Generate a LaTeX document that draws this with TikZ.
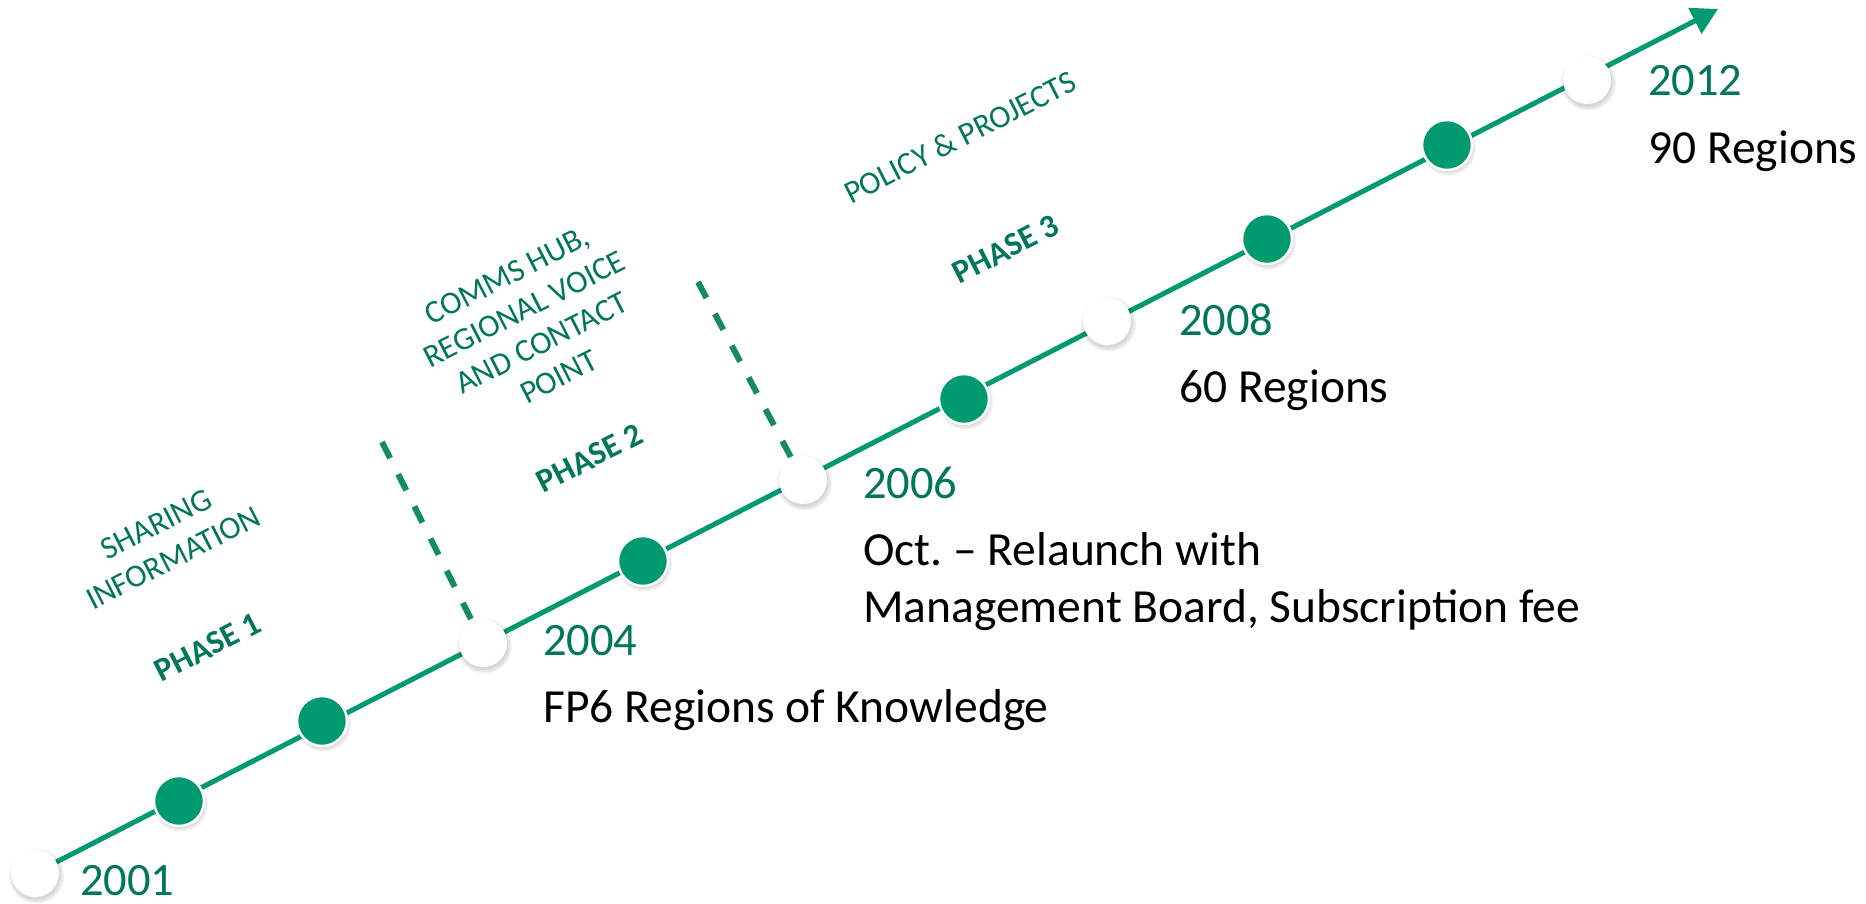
\documentclass[tikz,border=0pt]{standalone}
\usepackage{fontspec}
\setmainfont{Carlito}
\usetikzlibrary{arrows.meta}
\frenchspacing
\definecolor{linegreen}{RGB}{0,154,112}
\definecolor{textgreen}{RGB}{0,118,90}
\definecolor{dashgreen}{RGB}{20,140,95}
\tikzset{
  whitedot/.style={circle, fill=white, minimum size=48pt, inner sep=0pt},
  greendot/.style={circle, fill=linegreen, draw=white, line width=2.5pt, minimum size=50pt, inner sep=0pt},
  yeartext/.style={anchor=base west, inner sep=0pt, text=textgreen, font=\fontsize{46.5}{56}\selectfont},
  desctext/.style={anchor=base west, inner sep=0pt, text=black, align=left, font=\fontsize{47.5}{57}\selectfont},
  phasetext/.style={rotate=27, inner sep=0pt, text=textgreen, align=center, font=\fontsize{32}{38}\selectfont},
  phasebold/.style={rotate=27, inner sep=0pt, text=textgreen, font=\bfseries\fontsize{33}{40}\selectfont},
  mainline/.style={draw=linegreen, line width=5pt, -{Triangle[length=26pt,width=28pt]}},
  sepline/.style={draw=dashgreen, line width=6pt, dash pattern=on 18pt off 18pt},
}
\begin{document}
\begin{tikzpicture}[x=1pt,y=-1pt]
\useasboundingbox[fill=white] (0,0) rectangle (1866,903);
% positions
\coordinate (p0) at (35,873);
\coordinate (p1) at (179,801);
\coordinate (p2) at (322,721);
\coordinate (p3) at (483,643);
\coordinate (p4) at (643,561);
\coordinate (p5) at (803,480);
\coordinate (p6) at (964,399);
\coordinate (p7) at (1107,321);
\coordinate (p8) at (1267,239);
\coordinate (p9) at (1447,145);
\coordinate (p10) at (1587,80);
\coordinate (tip) at (1718,9);
\coordinate (s1) at (382,442);
\coordinate (s2) at (698,282);
% separators
\draw[sepline] (s1) -- (p3);
\draw[sepline] (s2) -- (p5);
% main line
\draw[mainline] (p0) -- (tip);
% soft shadows
\foreach \i in {0,...,10}{
  \fill[black, opacity=0.05] ([shift={(1.5,3)}]p\i) circle (27.5);
  \fill[black, opacity=0.05] ([shift={(1.5,3)}]p\i) circle (26);
  \fill[black, opacity=0.06] ([shift={(1,2.5)}]p\i) circle (24.5);
}
% dots
\node[whitedot] (c0) at (p0) {};
\node[greendot] (c1) at (p1) {};
\node[greendot] (c2) at (p2) {};
\node[whitedot] (c3) at (p3) {};
\node[greendot] (c4) at (p4) {};
\node[whitedot] (c5) at (p5) {};
\node[greendot] (c6) at (p6) {};
\node[whitedot] (c7) at (p7) {};
\node[greendot] (c8) at (p8) {};
\node[greendot] (c9) at (p9) {};
\node[whitedot] (c10) at (p10) {};
% years and descriptions
\node[yeartext] (y2001) at (80,895) {2001};
\node[yeartext] (y2004) at (543,655) {2004};
\node[desctext] (d2004) at (543,722) {FP6 Regions of Knowledge};
\node[yeartext] (y2006) at (863,498) {2006};
\node[desctext] (d2006) at (863,622) {Oct. – Relaunch with\\Management Board, Subscription fee};
\node[yeartext] (y2008) at (1179,335) {2008};
\node[desctext] (d2008) at (1179,402) {60 Regions};
\node[yeartext] (y2012) at (1648,95) {2012};
\node[desctext] (d2012) at (1648,163) {90 Regions};
% phases
\node[phasetext] (t1) at (165,541) {SHARING\\INFORMATION};
\node[phasebold] (ph1) at (208,647) {PHASE 1};
\node[phasetext] (t2) at (533,326) {COMMS HUB,\\REGIONAL VOICE\\AND CONTACT\\POINT};
\node[phasebold] (ph2) at (590,458) {PHASE 2};
\node[phasetext] (t3) at (960,137) {POLICY \& PROJECTS};
\node[phasebold] (ph3) at (1006,249) {PHASE 3};
\end{tikzpicture}
\end{document}
